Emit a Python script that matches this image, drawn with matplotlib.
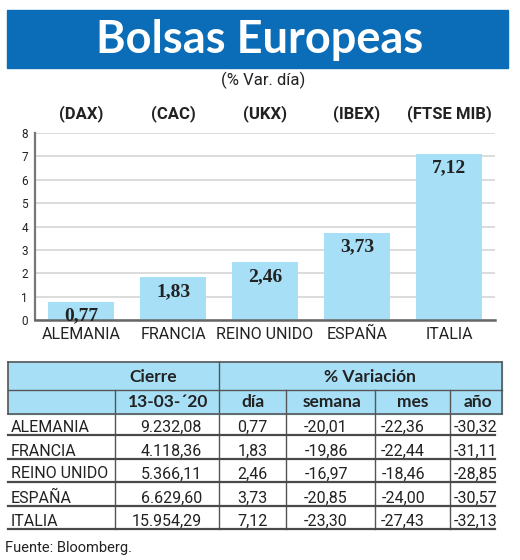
import matplotlib
matplotlib.use("Agg")
import matplotlib.pyplot as plt
from matplotlib.patches import Rectangle

countries = ["ALEMANIA", "FRANCIA", "REINO UNIDO", "ESPAÑA", "ITALIA"]
indices = ["(DAX)", "(CAC)", "(UKX)", "(IBEX)", "(FTSE MIB)"]
var_dia = [0.77, 1.83, 2.46, 3.73, 7.12]
cierre = ["9.232,08", "4.118,36", "5.366,11", "6.629,60", "15.954,29"]
semana = ["-20,01", "-19,86", "-16,97", "-20,85", "-23,30"]
mes = ["-22,36", "-22,44", "-18,46", "-24,00", "-27,43"]
anio = ["-30,32", "-31,11", "-28,85", "-30,57", "-32,13"]

W, H = 520, 560
BLUE = "#0b6db7"
LIGHT = "#a6dff6"
DARK = "#222222"
LINE = "#555555"
NARROW = ["Roboto", "DejaVu Sans"]
BOLD = ["Lato", "DejaVu Sans"]

fig = plt.figure(figsize=(W / 100, H / 100), dpi=100)
fig.patch.set_facecolor("white")


def fx(px):
    return px / W


def fy(py):
    return 1 - py / H


# ---- bar chart ----
left, right, top, bottom = 35, 495, 133, 320
ax = fig.add_axes([fx(left), fy(bottom), (right - left) / W, (bottom - top) / H])
x = list(range(len(countries)))
ax.bar(x, var_dia, width=0.72, color=LIGHT, zorder=2)
ax.set_xlim(-0.5, 4.5)
ax.set_ylim(0, 8)
ax.set_yticks(range(0, 9))
ax.yaxis.grid(True, color="#d6d6d6", lw=1.2, zorder=0)
ax.set_axisbelow(True)
for s in ["top", "right"]:
    ax.spines[s].set_visible(False)
ax.spines["left"].set_color("#777777")
ax.spines["left"].set_linewidth(1.6)
ax.spines["bottom"].set_color("#666666")
ax.spines["bottom"].set_linewidth(1.8)
ax.tick_params(axis="y", length=0, pad=5, labelsize=8.5, labelcolor=DARK)
ax.tick_params(axis="x", length=0, pad=5, labelsize=11.5, labelcolor=DARK)
for lab in ax.get_yticklabels():
    lab.set_family(NARROW)
ax.set_xticks(x)
ax.set_xticklabels(countries, family=NARROW)

for i, v in enumerate(var_dia):
    ax.annotate(f"{v:.2f}".replace(".", ","), (i, v), xytext=(0, -4),
                textcoords="offset points", ha="center", va="top",
                fontsize=14, fontweight="bold",
                family=["Liberation Serif", "DejaVu Serif"], color=DARK)
    ax.annotate(indices[i], (i, 8), xytext=(0, 14), textcoords="offset points",
                ha="center", va="center", fontsize=12, fontweight="bold",
                family=NARROW, color=DARK, annotation_clip=False)

# ---- overlay for title and table ----
ov = fig.add_axes([0, 0, 1, 1])
ov.set_xlim(0, W)
ov.set_ylim(H, 0)
ov.axis("off")

ov.add_patch(Rectangle((7, 10), 501, 58, color=BLUE))
ov.text(260, 40, "Bolsas Europeas", ha="center", va="center", color="white",
        fontsize=32.5, fontweight="bold", family=BOLD)
ov.text(263, 80, "(% Var. día)", ha="center", va="center", fontsize=12,
        family=NARROW, color=DARK)

# table header
tl, tr = 8, 502
ov.add_patch(Rectangle((tl, 362), tr - tl, 52, color=LIGHT))
ov.plot([tl, tr], [362, 362], color=LINE, lw=1.2)
ov.plot([tl, tr], [390, 390], color=LINE, lw=1.0)
ov.plot([tl, tr], [414, 414], color=LINE, lw=1.2)
ov.plot([tl, tl], [362, 414], color=LINE, lw=1.2)
ov.plot([tr, tr], [362, 414], color=LINE, lw=1.2)
ov.plot([219, 219], [362, 529], color=LINE, lw=1.0)
for cx in [115, 286, 375, 450]:
    ov.plot([cx, cx], [390, 529], color=LINE, lw=1.0)

hkw = dict(ha="center", va="center", fontsize=12.5, fontweight="bold",
           family=BOLD, color=DARK)
ov.text(153, 377, "Cierre", **hkw)
ov.text(370, 377, "% Variación", **hkw)
ov.text(168, 402, "13-03-´20", **hkw)
for cx, t in zip([253, 332, 413, 478], ["día", "semana", "mes", "año"]):
    ov.text(cx, 402, t, **hkw)

row_y = [427, 451, 474, 498, 521]
row_line = [435, 459, 482, 506, 529]
dkw = dict(va="center", fontsize=11.5, family=NARROW, color=DARK)
for i, c in enumerate(countries):
    y = row_y[i]
    ov.plot([tl, 495], [row_line[i], row_line[i]], color="#4a4a4a", lw=1.6)
    ov.text(11, y, c, ha="left", **dkw)
    ov.text(202, y, cierre[i], ha="right", **dkw)
    ov.text(268, y, f"{var_dia[i]:.2f}".replace(".", ","), ha="right", **dkw)
    ov.text(348, y, semana[i], ha="right", **dkw)
    ov.text(425, y, mes[i], ha="right", **dkw)
    ov.text(497, y, anio[i], ha="right", **dkw)

ov.text(5, 548, "Fuente: Bloomberg.", ha="left", va="center", fontsize=10.5,
        family=NARROW, color=DARK)

fig.savefig("out.png", dpi=100)
